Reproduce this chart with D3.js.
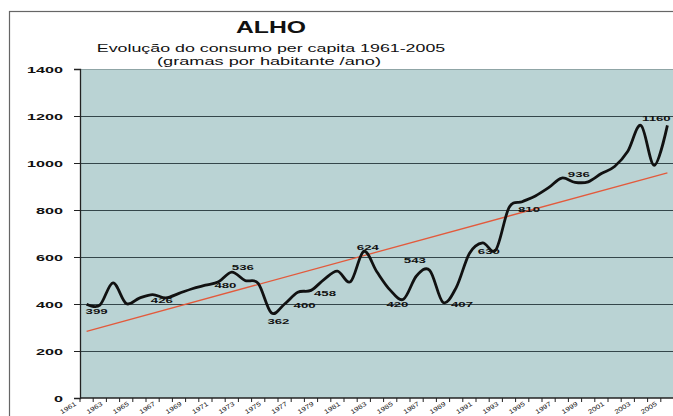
<!DOCTYPE html>
<html>
<head>
<meta charset="utf-8">
<script src="https://cdn.jsdelivr.net/npm/d3@7"></script>
<style>
  body { margin: 0; background: #fff; }
  text { font-family: "Liberation Sans", Arial, sans-serif; fill: #111; }
</style>
</head>
<body>
<div id="chart"></div>
<script>
// consumo per capita de alho, gramas por habitante / ano
const years = d3.range(1961, 2006);
const consumo = [
  399, 395, 490, 402, 425, 440, 426, 445, 465, 480,
  495, 536, 500, 488, 362, 400, 450, 458, 505, 540,
  495, 624, 536, 459, 420, 520, 543, 407, 470, 615,
  660, 630, 810, 835, 860, 895, 936, 918, 920, 955,
  985, 1050, 1160, 990, 1160
];
const labelYears = [1961, 1967, 1970, 1972, 1975, 1976, 1978, 1982, 1985, 1987, 1988, 1992, 1993, 1997, 2005];
const yTicks = [0, 200, 400, 600, 800, 1000, 1200, 1400];
const xTickLabels = years.filter((d, i) => i % 2 === 0);

const title = "ALHO";
const subtitle1 = "Evolução do consumo per capita 1961-2005";
const subtitle2 = "(gramas por habitante /ano)";

// label placement (offset from the point), tuned by eye
const labelOffset = {
  1961: [10, 7], 1967: [-4, 2], 1970: [20, 0], 1972: [11, -5],
  1975: [7, 8], 1976: [20, 1], 1978: [14, 3], 1982: [4, -4],
  1985: [-6, 5], 1987: [-15, -10], 1988: [19, 2], 1992: [-7, 1],
  1993: [20, 1], 1997: [17, -4], 2005: [-11, -7]
};

let width = 673,
    height = 416,
    plotLeft = 80, plotRight = 674, plotTop = 69, plotBottom = 398;

let data = years.map((yr, i) => ({year: yr, value: consumo[i]}));

let x = d3.scaleBand().domain(years).range([plotLeft, plotRight]);
let cx = d => x(d) + x.bandwidth() / 2;
let y = d3.scaleLinear().domain([0, 1400]).range([plotBottom, plotTop]);

let svg = d3.select("#chart")
    .append("svg")
    .attr("width", width)
    .attr("height", height);

// chart frame
svg.append("rect")
    .attr("x", 9.5).attr("y", 11.5)
    .attr("width", 700).attr("height", 420)
    .attr("fill", "#fff")
    .attr("stroke", "#666")
    .attr("stroke-width", 1.2);

// plot area
svg.append("rect")
    .attr("x", plotLeft).attr("y", plotTop)
    .attr("width", plotRight - plotLeft).attr("height", plotBottom - plotTop)
    .attr("fill", "#bad3d4");

// gridlines
svg.append("g")
    .selectAll("line")
    .data(yTicks.filter(d => d > 0))
    .enter()
    .append("line")
    .attr("x1", plotLeft).attr("x2", plotRight)
    .attr("y1", d => y(d) + 0.5).attr("y2", d => y(d) + 0.5)
    .attr("stroke", d => d === 1400 ? "#8fa5a6" : "#34464a")
    .attr("stroke-width", 1);

// y axis
let yAxis = svg.append("g")
    .attr("transform", "translate(" + plotLeft + ",0)")
    .call(d3.axisLeft(y).tickValues(yTicks).tickSize(6).tickFormat(d3.format("d")));
yAxis.select(".domain").attr("stroke", "#222").attr("stroke-width", 1.3);
yAxis.selectAll(".tick line").attr("stroke", "#222");
yAxis.selectAll(".tick text")
    .attr("x", null).attr("dy", null)
    .attr("text-anchor", "end")
    .attr("transform", "translate(-17,3.5) scale(1.8,1)")
    .style("font-size", "9px")
    .style("font-weight", "bold")
    .attr("fill", "#111");

// x axis: ticks between categories
let xAxis = svg.append("g").attr("transform", "translate(0," + plotBottom + ")");
xAxis.append("line")
    .attr("x1", plotLeft).attr("x2", plotRight)
    .attr("stroke", "#222").attr("stroke-width", 1.3);
xAxis.selectAll(".xt")
    .data(years.map(d => x(d)).concat([plotRight]))
    .enter()
    .append("line")
    .attr("class", "xt")
    .attr("x1", d => d).attr("x2", d => d)
    .attr("y1", 0).attr("y2", 4)
    .attr("stroke", "#222");
xAxis.selectAll("text")
    .data(xTickLabels)
    .enter()
    .append("text")
    .attr("text-anchor", "end")
    .attr("transform", d => "translate(" + (cx(d) - 10) + ",7) rotate(-32) scale(1.25,1)")
    .style("font-size", "6.3px")
    .text(d => d);

// trend line (least squares)
let n = data.length,
    mx = d3.mean(data, d => d.year),
    my = d3.mean(data, d => d.value);
let slope = d3.sum(data, d => (d.year - mx) * (d.value - my)) / d3.sum(data, d => (d.year - mx) ** 2);
let trend = yr => my + slope * (yr - mx);

svg.append("line")
    .attr("x1", cx(years[0])).attr("y1", y(trend(years[0])))
    .attr("x2", cx(years[n - 1])).attr("y2", y(trend(years[n - 1])))
    .attr("stroke", "#e35a3c")
    .attr("stroke-width", 1.3);

// smoothed series
let line = d3.line()
    .x(d => cx(d.year))
    .y(d => y(d.value))
    .curve(d3.curveCardinal.tension(0));

svg.append("path")
    .datum(data)
    .attr("fill", "none")
    .attr("stroke", "#111")
    .attr("stroke-width", 2.8)
    .attr("stroke-linejoin", "round")
    .attr("d", line);

// data labels
svg.append("g")
    .selectAll("text")
    .data(data.filter(d => labelYears.includes(d.year)))
    .enter()
    .append("text")
    .attr("text-anchor", "middle")
    .attr("transform", d => {
        let o = labelOffset[d.year] || [0, 0];
        return "translate(" + (cx(d.year) + o[0]) + "," + (y(d.value) + o[1] + 3) + ") scale(1.65,1)";
    })
    .style("font-size", "8px")
    .style("font-weight", "bold")
    .text(d => d.value);

// titles
svg.append("text")
    .attr("text-anchor", "middle")
    .attr("transform", "translate(271,33) scale(1.5,1)")
    .style("font-size", "16.5px")
    .style("font-weight", "bold")
    .text(title);
svg.append("text")
    .attr("text-anchor", "middle")
    .attr("transform", "translate(271,52) scale(1.55,1)")
    .style("font-size", "11.5px")
    .text(subtitle1);
svg.append("text")
    .attr("text-anchor", "middle")
    .attr("transform", "translate(269,65) scale(1.58,1)")
    .style("font-size", "11.5px")
    .text(subtitle2);
</script>
</body>
</html>
